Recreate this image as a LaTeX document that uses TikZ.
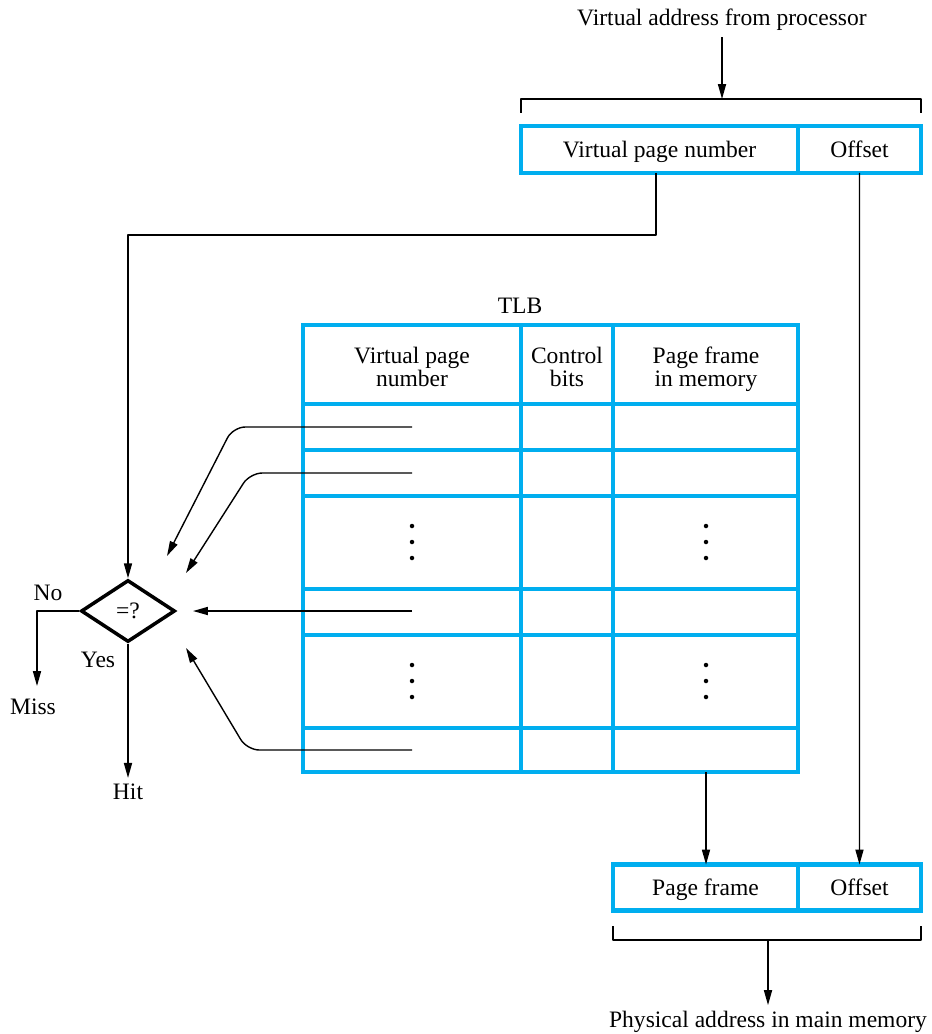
\documentclass[tikz,border=0pt]{standalone}
\usepackage{fontspec}
\setmainfont{Liberation Serif}
\usetikzlibrary{arrows.meta,positioning,shapes.geometric}
\definecolor{tlbblue}{HTML}{00AEEF}

\begin{document}
\begin{tikzpicture}[x=0.02cm, y=-0.02cm, font=\fontsize{13.4}{12.7}\selectfont]
  \tikzset{
    cell/.style ={draw=tlbblue, line width=2.3pt, inner sep=0pt, outer sep=0pt, align=center,
                  text height=0.95em, text depth=0.03em},
    head/.style ={align=center, text height=0.69em, text depth=0.22em},
    grid/.style ={draw=tlbblue, line width=2.3pt},
    wire/.style ={line width=0.8pt, line join=round},
    arr/.style  ={wire, -{Triangle[length=8.5pt,width=4.6pt]}},
    test/.style ={diamond, draw, line width=2pt, inner sep=0pt, minimum width=1.88cm, minimum height=1.24cm},
  }
  \useasboundingbox (0,0) rectangle (931,1034);

  % virtual address
  \node (va) at (722,20) {Virtual address from processor};
  \node[cell, minimum width=5.54cm, minimum height=0.94cm] (vpn) at (659.5,149.5) {Virtual page number};
  \node[cell, minimum width=2.46cm, minimum height=0.94cm, right=0pt of vpn] (off) {Offset};
  \coordinate (vabr) at (722,99);
  \draw[wire] (521,113) -- (521,99) -- (921,99) -- (921,113);
  \draw[arr] (va.south) -- (vabr);

  % TLB
  \node (tlb) at (520,306) {TLB};
  \draw[grid] (303,325) rectangle (798,772);
  \foreach \y in {404,450,496,589,635,728}
    \draw[grid] (303,\y) -- (798,\y);
  \foreach \x in {521,613}
    \draw[grid] (\x,325) -- (\x,772);
  \node[head] (hvpn) at (412,382) {Virtual page\\number};
  \node[head] (hctl) at (567,382) {Control\\bits};
  \node[head] (hpf)  at (706,382) {Page frame\\in memory};
  \foreach \x in {412,706}
    \foreach \y in {542,681}
      \foreach \d in {-16,0,16}
        \fill (\x,\y+\d) circle (0.045cm);

  % comparator
  \node[test] (cmp) at (128,611) {=?};
  \node (no)   at (48,593)  {No};
  \node (yes)  at (98,660)  {Yes};
  \node (miss) at (33,707)  {Miss};
  \node (hit)  at (128,792) {Hit};
  \draw[arr] (vpn.south -| 656,0) -- (656,235) -- (128,235) -- (cmp.north);
  \coordinate (miss0) at (37,686);
  \draw[arr] (cmp.west) -- (37,611) -- (miss0);
  \draw[arr] (cmp.south) -- (hit.north);

  \coordinate (r1) at (412,427); \coordinate (t1) at (167,556);
  \coordinate (r2) at (412,473); \coordinate (t2) at (186,573);
  \coordinate (r4) at (412,611); \coordinate (t4) at (193,611);
  \coordinate (r6) at (412,750); \coordinate (t6) at (186,648);
  \draw[arr, rounded corners=7pt] (r1) -- (233,427) -- (t1);
  \draw[arr, rounded corners=7pt] (r2) -- (250,473) -- (t2);
  \draw[arr] (r4) -- (t4);
  \draw[arr, rounded corners=7pt] (r6) -- (247,750) -- (t6);

  % physical address
  \node[cell, minimum width=3.7cm, minimum height=0.92cm] (pf) at (705.5,887.5) {Page frame};
  \node[cell, minimum width=2.46cm, minimum height=0.92cm, right=0pt of pf] (poff) {Offset};
  \coordinate (pfout) at (706,772);
  \draw[arr] (pfout) -- (pfout |- pf.north);
  \draw[arr] (off.south) -- (poff.north);
  \draw[wire] (613,926) -- (613,940) -- (921,940) -- (921,926);
  \coordinate (pabr) at (768,940);
  \node (pa) at (768,1022) {Physical address in main memory};
  \draw[arr] (pabr) -- (pa.north);
\end{tikzpicture}
\end{document}
